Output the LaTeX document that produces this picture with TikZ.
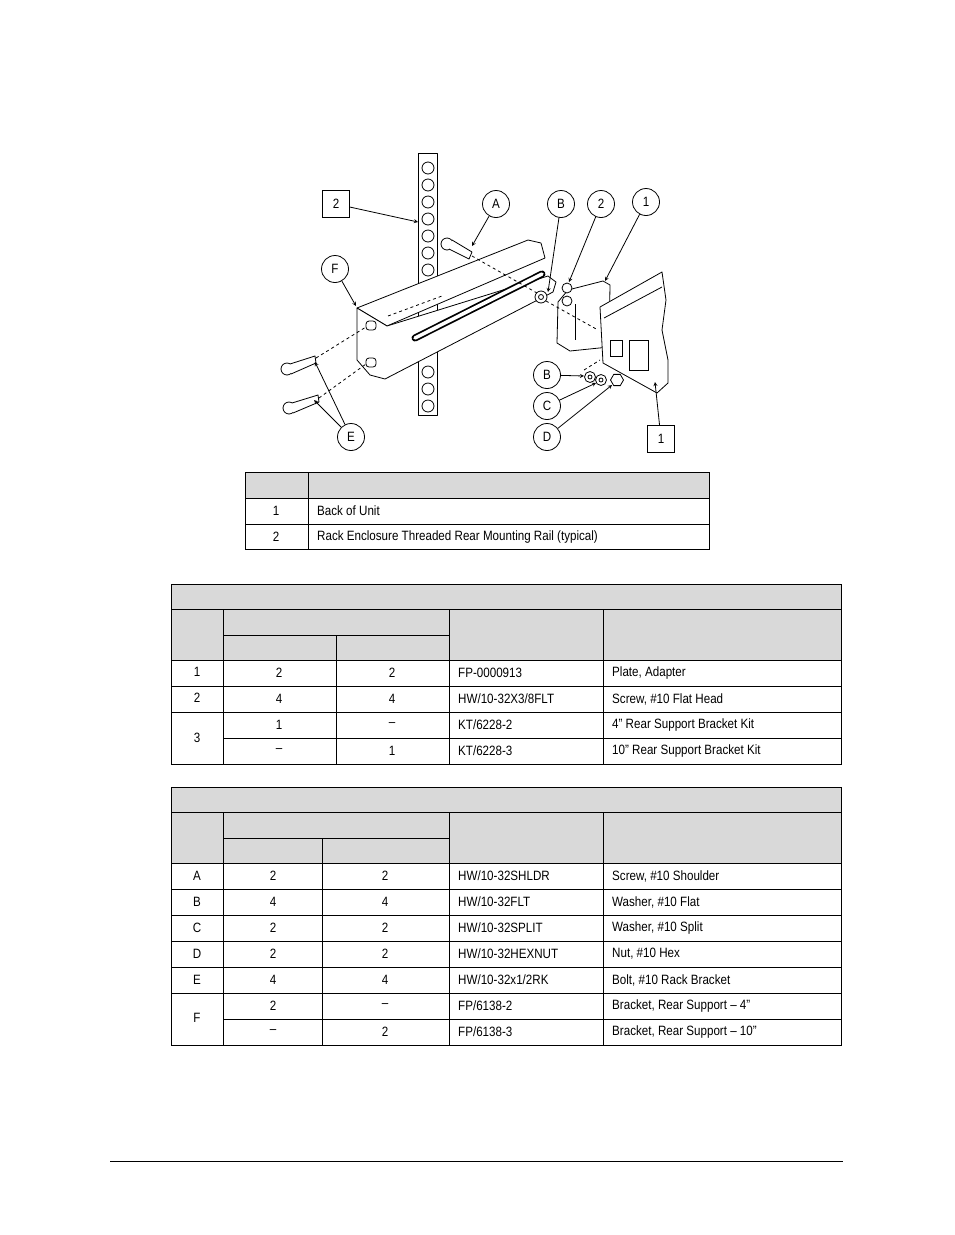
\documentclass[tikz,border=0pt]{standalone}
\usepackage{fontspec}
\setmainfont[FakeStretch=0.86]{Liberation Sans}
\usepackage{tikz}
\usetikzlibrary{shapes, arrows, positioning}

\begin{document}
\begin{tikzpicture}[
        x=1pt, y=-1pt,
        every node/.style={font=\fontsize{13.5}{15}\selectfont},
        callout/.style={circle, draw, thick, fill=white, minimum size=27pt, inner sep=0pt},
        tag/.style={rectangle, draw, thick, fill=white, minimum size=27pt, inner sep=0pt},
        lead/.style={->, >=stealth, thick},
        part/.style={draw, thick, fill=white, line join=round},
        hidden/.style={dashed, thick},
        grid/.style={draw, thick},
        head/.style={fill=gray!30},
        cell/.style={anchor=west, inner sep=0pt}
    ]
    \useasboundingbox (0,0) rectangle (954,1235);

    % --- Rail ---
    \draw[part] (418,153) rectangle (437,415);
    \foreach \y in {168,185,202,219,236,253,270,287}
        \draw[thick] (428,\y) circle (6);
    \foreach \y in {372,389,406}
        \draw[thick] (428,\y) circle (6);

    % --- Bracket ---
    \draw[part] (357,308) -- (528,240) -- (541,243) -- (545,258) -- (387,326) -- cycle;
    \draw[part] (357,308) -- (387,326) -- (548,276) -- (556,282) -- (553,292)
        -- (385,379) -- (370,375) -- (357,360) -- cycle;
    \draw[line width=7pt, line cap=round] (415,338) -- (542,274);
    \draw[line width=3.5pt, white, line cap=round] (415,338) -- (542,274);
    \draw[thick, rounded corners=3pt] (366,321) rectangle (376,330);
    \draw[thick, rounded corners=3pt] (366,358) rectangle (376,367);
    \draw[thick, fill=white] (541,297) circle (6) (541,297) circle (2.5);

    % --- Adapter plate and unit ---
    \draw[part] (558,302) -- (568,290) -- (603,281) -- (610,285) -- (609,347)
        -- (570,351) -- (557,343) -- cycle;
    \draw[thick] (575,304) -- (575,340);
    \draw[part] (600,307) -- (662,272) -- (666,300) -- (662,330) -- (668,360)
        -- (668,383) -- (657,393) -- (603,363) -- cycle;
    \draw[thick] (604,318) -- (662,287);
    \draw[thick] (629,340) rectangle (648,370);
    \draw[thick] (610,340) rectangle (622,356);
    \draw[part] (567,288) circle (5);
    \draw[part] (567,301) circle (5);

    % --- Hardware ---
    \draw[part] (447,244) circle (6);
    \draw[part] (452,240) -- (472,252) -- (469,259) -- (449,249);
    \draw[part] (287,369) circle (6);
    \draw[part] (290,364) -- (315,356) -- (316,363) -- (291,374);
    \draw[part] (289,408) circle (6);
    \draw[part] (292,403) -- (318,395) -- (319,402) -- (293,413);
    \draw[part] (590,377) circle (5.5) (590,377) circle (2);
    \draw[part] (601,380) circle (5.5) (601,380) circle (2);
    \node[draw, thick, fill=white, regular polygon, regular polygon sides=6,
          minimum size=13pt, inner sep=0pt] (nut) at (617,380) {};

    % --- Hidden lines ---
    \draw[hidden] (472,256) -- (537,293);
    \draw[hidden] (546,301) -- (598,330);
    \draw[hidden] (316,358) -- (366,327);
    \draw[hidden] (319,398) -- (366,364);
    \draw[hidden] (388,316) -- (442,296);
    \draw[hidden] (584,370) -- (600,360);

    % --- Callouts ---
    \node[tag] (railtag) at (336,204) {2};
    \node[callout] (ca) at (496,204) {A};
    \node[callout] (cbtop) at (561,204) {B};
    \node[callout] (crail) at (601,204) {2};
    \node[callout] (cunit) at (646,202) {1};
    \node[callout] (cf) at (335,269) {F};
    \node[callout] (cb) at (547,375) {B};
    \node[callout] (cc) at (547,406) {C};
    \node[callout] (cd) at (547,437) {D};
    \node[callout] (ce) at (351,437) {E};
    \node[tag] (unittag) at (661,439) {1};

    \coordinate (prail) at (418,222);
    \coordinate (pa) at (472,246);
    \coordinate (pbtop) at (548,292);
    \coordinate (pscrew) at (569,282);
    \coordinate (pplate) at (605,281);
    \coordinate (pf) at (356,306);
    \coordinate (pb) at (584,376);
    \coordinate (pc) at (596,383);
    \coordinate (pd) at (612,385);
    \coordinate (pe1) at (315,362);
    \coordinate (pe2) at (314,400);
    \coordinate (punit) at (655,382);

    \draw[lead] (railtag) -- (prail);
    \draw[lead] (ca) -- (pa);
    \draw[lead] (cbtop) -- (pbtop);
    \draw[lead] (crail) -- (pscrew);
    \draw[lead] (cunit) -- (pplate);
    \draw[lead] (cf) -- (pf);
    \draw[lead] (cb) -- (pb);
    \draw[lead] (cc) -- (pc);
    \draw[lead] (cd) -- (pd);
    \draw[lead] (ce) -- (pe1);
    \draw[lead] (ce) -- (pe2);
    \draw[lead] (unittag) -- (punit);

    % --- Table: item key ---
    \fill[head] (245,472) rectangle (709,498);
    \draw[grid] (245,472) rectangle (709,549);
    \draw[grid] (245,498) -- (709,498) (245,524) -- (709,524) (308,472) -- (308,549);
    \node (k1) at (276,511) {1};
    \node (k2) at (276,537) {2};
    \node[cell] (k1t) at (317,511) {Back of Unit};
    \node[cell] (k2t) at (317,537) {Rack Enclosure Threaded Rear Mounting Rail (typical)};

    % --- Table: kit parts ---
    \fill[head] (171,584) rectangle (841,660);
    \draw[grid] (171,584) rectangle (841,764);
    \draw[grid] (171,609) -- (841,609) (223,635) -- (449,635) (171,660) -- (841,660);
    \foreach \y in {686,712} \draw[grid] (171,\y) -- (841,\y);
    \draw[grid] (223,738) -- (841,738);
    \draw[grid] (223,609) -- (223,764) (336,635) -- (336,764)
        (449,609) -- (449,764) (603,609) -- (603,764);
    \foreach \n/\y/\i/\a/\b/\p/\d in {
        r1/673/1/2/2/FP-0000913/{Plate, Adapter},
        r2/699/2/4/4/HW/10-32X3/8FLT/{Screw, \#10 Flat Head}}{}
    \node (r1i) at (197,672) {1};
    \node (r2i) at (197,698) {2};
    \node (r3i) at (197,738) {3};
    \foreach \y/\a/\b/\p/\d [count=\k] in {
        673/2/2/FP-0000913/{Plate, Adapter},
        699/4/4/HW\slash 10-32X3\slash 8FLT/{Screw, \#10 Flat Head},
        725/1/--/KT\slash 6228-2/{4” Rear Support Bracket Kit},
        751/--/1/KT\slash 6228-3/{10” Rear Support Bracket Kit}} {
        \node (ka\k) at (279,\y) {\a};
        \node (kb\k) at (392,\y) {\b};
        \node[cell] (kp\k) at (458,\y) {\p};
        \node[cell] (kd\k) at (612,\y) {\d};
    }

    % --- Table: hardware ---
    \fill[head] (171,787) rectangle (841,863);
    \draw[grid] (171,787) rectangle (841,1045);
    \draw[grid] (171,812) -- (841,812) (223,838) -- (449,838) (171,863) -- (841,863);
    \foreach \y in {889,915,941,967,993} \draw[grid] (171,\y) -- (841,\y);
    \draw[grid] (223,1019) -- (841,1019);
    \draw[grid] (223,812) -- (223,1045) (322,838) -- (322,1045)
        (449,812) -- (449,1045) (603,812) -- (603,1045);
    \foreach \i/\y/\a/\b/\p/\d [count=\k] in {
        A/876/2/2/HW\slash 10-32SHLDR/{Screw, \#10 Shoulder},
        B/902/4/4/HW\slash 10-32FLT/{Washer, \#10 Flat},
        C/928/2/2/HW\slash 10-32SPLIT/{Washer, \#10 Split},
        D/954/2/2/HW\slash 10-32HEXNUT/{Nut, \#10 Hex},
        E/980/4/4/HW\slash 10-32x1\slash 2RK/{Bolt, \#10 Rack Bracket},
        /1006/2/--/FP\slash 6138-2/{Bracket, Rear Support -- 4”},
        /1032/--/2/FP\slash 6138-3/{Bracket, Rear Support -- 10”}} {
        \node (hi\k) at (197,\y) {\i};
        \node (ha\k) at (273,\y) {\a};
        \node (hb\k) at (385,\y) {\b};
        \node[cell] (hp\k) at (458,\y) {\p};
        \node[cell] (hd\k) at (612,\y) {\d};
    }
    \node (hf) at (197,1018) {F};

    % --- Footer rule ---
    \draw[thin] (110,1161) -- (843,1161);
\end{tikzpicture}
\end{document}
